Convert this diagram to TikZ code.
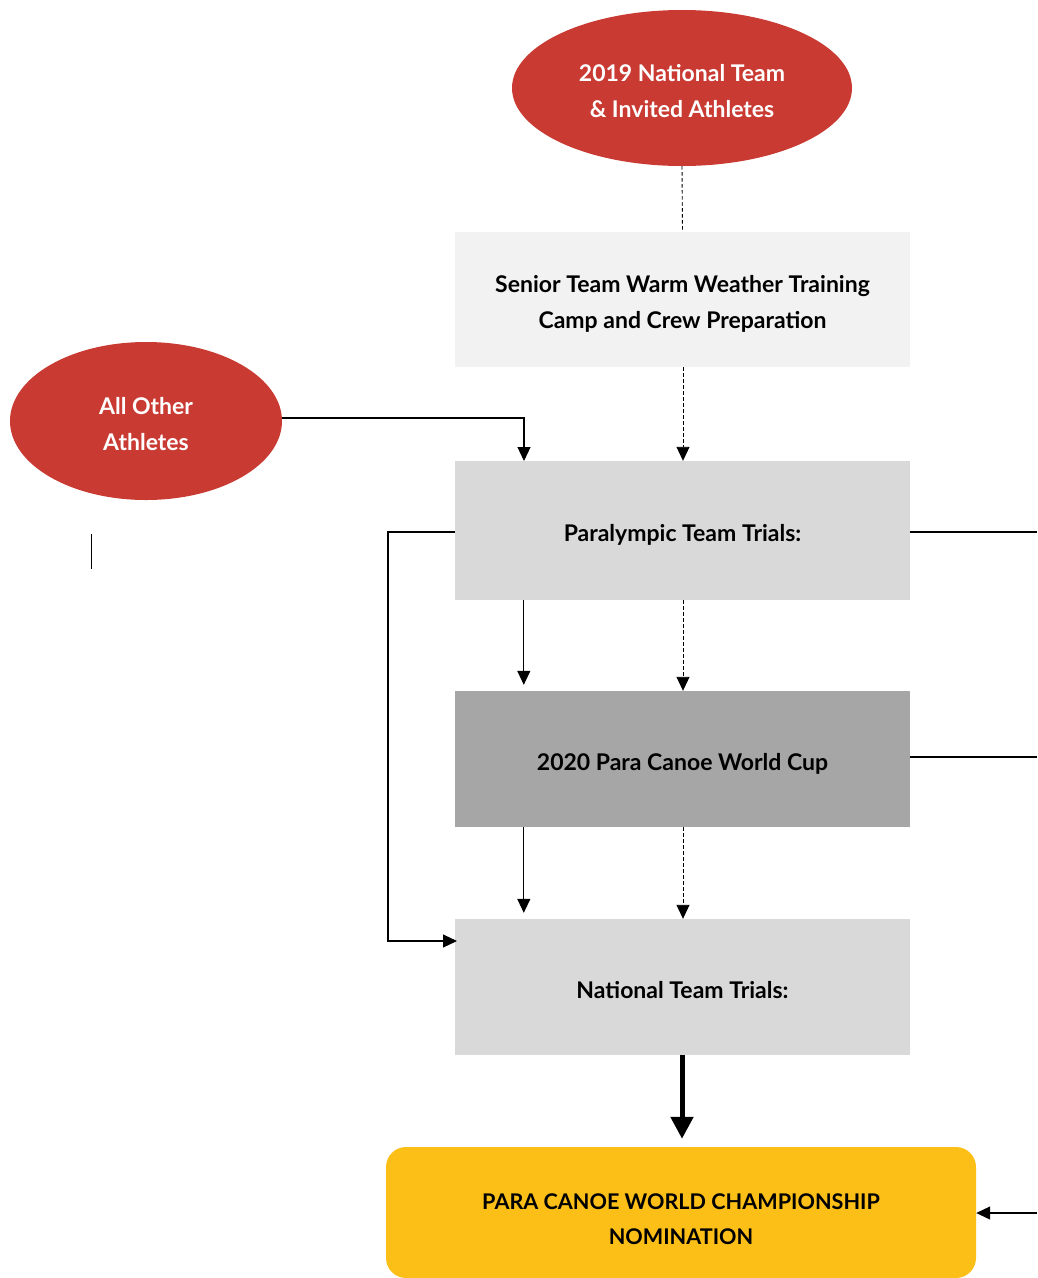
\documentclass[tikz,border=0pt]{standalone}
\usepackage{fontspec}
\setmainfont{Lato}
\usetikzlibrary{arrows.meta,shapes.geometric,calc}
\definecolor{ovalred}{HTML}{C93A32}
\definecolor{boxlight}{HTML}{F2F2F2}
\definecolor{boxmid}{HTML}{D9D9D9}
\definecolor{boxdark}{HTML}{A6A6A6}
\definecolor{nomyellow}{HTML}{FCBF17}
\newcommand{\lowtext}[2][4pt]{\raisebox{-#1}[\height][\depth]{\begin{tabular}{@{}c@{}}#2\end{tabular}}}
\begin{document}
\begin{tikzpicture}[x=1pt,y=-1pt,
  txt/.style={font=\fontsize{23}{36}\selectfont\bfseries},
  oval/.style={ellipse,fill=ovalred,text=white,txt,inner sep=0pt},
  stage/.style={rectangle,minimum width=455,minimum height=136,inner sep=0pt,txt},
  link/.style={line width=1.1pt,draw=black},
  dlink/.style={line width=0.9pt,draw=black,dash pattern=on 3.5pt off 2.5pt},
  tip/.style={-{Triangle[width=13pt,length=14pt]}}
]
\useasboundingbox (0,0) rectangle (1037,1278);
% nodes
\node[oval,minimum width=340,minimum height=156] (top) at (682,88) {\lowtext{2019 National Team\\\& Invited Athletes}};
\node[oval,minimum width=272,minimum height=158] (other) at (146,421) {\lowtext{All Other\\Athletes}};
\node[stage,fill=boxlight,minimum height=135] (camp) at (682.5,299.5) {\lowtext{Senior Team Warm Weather Training\\Camp and Crew Preparation}};
\node[stage,fill=boxmid,minimum height=139] (ptt) at (682.5,530.5) {\lowtext{Paralympic Team Trials:}};
\node[stage,fill=boxdark] (wc) at (682.5,759) {\lowtext{2020 Para Canoe World Cup}};
\node[stage,fill=boxmid] (ntt) at (682.5,987) {\lowtext{National Team Trials:}};
\node[rectangle,rounded corners=20pt,fill=nomyellow,minimum width=590,minimum height=131,inner sep=0pt,font=\fontsize{21.6}{35}\selectfont\bfseries] (nom) at (681,1212.5) {\lowtext[7pt]{PARA CANOE WORLD CHAMPIONSHIP\\NOMINATION}};
% free ends
\coordinate (rA) at (1037,532);
\coordinate (rB) at (1037,757);
\coordinate (rC) at (1037,1213);
\coordinate (stubT) at (91,534);
\coordinate (stubB) at (91,569);
\coordinate (leftX) at (388,532);
\coordinate (pttIn) at (524,461);
\coordinate (nttIn) at (457,941);
% connectors
\draw[dlink] (top.south) -- (camp.north);
\draw[dlink,tip] (camp.south -| 683,0) -- (ptt.north -| 683,0);
\draw[link,tip] (other.east |- 0,418) -| (pttIn);
\draw[link,tip] ($(ptt.south west)+(69,0)$) -- ($(wc.north west)+(69,-6)$);
\draw[dlink,tip] (ptt.south -| 683,0) -- (wc.north -| 683,0);
\draw[link,tip] ($(wc.south west)+(69,0)$) -- ($(ntt.north west)+(69,-6)$);
\draw[dlink,tip] (wc.south -| 683,0) -- (ntt.north -| 683,0);
\draw[link,tip] (ptt.west |- leftX) -- (leftX) |- (nttIn);
\draw[link] (ptt.east |- rA) -- (rA);
\draw[link] (wc.east |- rB) -- (rB);
\draw[link,tip] (rC) -- (nom.east |- rC);
\draw[line width=0.9pt] (stubT) -- (stubB);
\draw[line width=5pt,-{Triangle[width=22pt,length=22pt]},shorten >=8pt] (ntt.south -| 682,0) -- (nom.north -| 682,0);
\end{tikzpicture}
\end{document}
